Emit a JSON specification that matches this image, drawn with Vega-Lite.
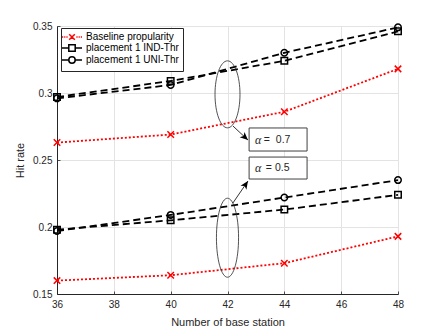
{
  "$schema": "https://vega.github.io/schema/vega-lite/v6.json",
  "width": 341,
  "height": 268,
  "autosize": {"type": "none"},
  "padding": {"left": 57, "top": 26, "right": 42, "bottom": 36},
  "background": "white",
  "config": {
    "font": "Liberation Sans",
    "view": {"stroke": "#262626", "strokeWidth": 1},
    "axis": {
      "grid": true,
      "gridColor": "#e3e3e3",
      "gridWidth": 1,
      "ticks": true,
      "tickSize": -3,
      "tickColor": "#262626",
      "tickWidth": 0.8,
      "labelFlush": false,
      "domainColor": "#262626",
      "labelColor": "#262626",
      "titleColor": "#262626",
      "labelFontSize": 10,
      "titleFontSize": 11,
      "titleFontWeight": "normal",
      "labelPadding": 8,
      "titlePadding": 7
    }
  },
  "resolve": {"scale": {"color": "independent", "shape": "independent"}},
  "datasets": {
    "main": [
      {"x": 36, "y": 0.263, "series": "Baseline propularity", "alpha": "0.7"},
      {"x": 40, "y": 0.269, "series": "Baseline propularity", "alpha": "0.7"},
      {"x": 44, "y": 0.286, "series": "Baseline propularity", "alpha": "0.7"},
      {"x": 48, "y": 0.318, "series": "Baseline propularity", "alpha": "0.7"},
      {"x": 36, "y": 0.297, "series": "placement 1 IND-Thr", "alpha": "0.7"},
      {"x": 40, "y": 0.309, "series": "placement 1 IND-Thr", "alpha": "0.7"},
      {"x": 44, "y": 0.324, "series": "placement 1 IND-Thr", "alpha": "0.7"},
      {"x": 48, "y": 0.346, "series": "placement 1 IND-Thr", "alpha": "0.7"},
      {"x": 36, "y": 0.296, "series": "placement 1 UNI-Thr", "alpha": "0.7"},
      {"x": 40, "y": 0.306, "series": "placement 1 UNI-Thr", "alpha": "0.7"},
      {"x": 44, "y": 0.330, "series": "placement 1 UNI-Thr", "alpha": "0.7"},
      {"x": 48, "y": 0.349, "series": "placement 1 UNI-Thr", "alpha": "0.7"},
      {"x": 36, "y": 0.160, "series": "Baseline propularity", "alpha": "0.5"},
      {"x": 40, "y": 0.164, "series": "Baseline propularity", "alpha": "0.5"},
      {"x": 44, "y": 0.173, "series": "Baseline propularity", "alpha": "0.5"},
      {"x": 48, "y": 0.193, "series": "Baseline propularity", "alpha": "0.5"},
      {"x": 36, "y": 0.198, "series": "placement 1 IND-Thr", "alpha": "0.5"},
      {"x": 40, "y": 0.205, "series": "placement 1 IND-Thr", "alpha": "0.5"},
      {"x": 44, "y": 0.213, "series": "placement 1 IND-Thr", "alpha": "0.5"},
      {"x": 48, "y": 0.224, "series": "placement 1 IND-Thr", "alpha": "0.5"},
      {"x": 36, "y": 0.197, "series": "placement 1 UNI-Thr", "alpha": "0.5"},
      {"x": 40, "y": 0.209, "series": "placement 1 UNI-Thr", "alpha": "0.5"},
      {"x": 44, "y": 0.222, "series": "placement 1 UNI-Thr", "alpha": "0.5"},
      {"x": 48, "y": 0.235, "series": "placement 1 UNI-Thr", "alpha": "0.5"}
    ]
  },
  "encoding": {
    "x": {
      "field": "x", "type": "quantitative",
      "scale": {"domain": [36, 48], "nice": false, "zero": false},
      "axis": {"values": [36, 38, 40, 42, 44, 46, 48], "title": "Number of base station"}
    },
    "y": {
      "field": "y", "type": "quantitative",
      "scale": {"domain": [0.15, 0.35], "nice": false, "zero": false},
      "axis": {"values": [0.15, 0.2, 0.25, 0.3, 0.35], "format": ".2~f", "title": "Hit rate"}
    }
  },
  "layer": [
    {
      "data": {"name": "main"},
      "mark": {"type": "line", "strokeWidth": 1.8},
      "encoding": {
        "stroke": {
          "field": "series", "type": "nominal",
          "scale": {"domain": ["Baseline propularity", "placement 1 IND-Thr", "placement 1 UNI-Thr"], "range": ["#ff0000", "#000000", "#000000"]},
          "legend": null
        },
        "strokeDash": {
          "field": "series", "type": "nominal",
          "scale": {"domain": ["Baseline propularity", "placement 1 IND-Thr", "placement 1 UNI-Thr"], "range": [[2, 2], [7, 4], [7, 4]]},
          "legend": null
        },
        "detail": {"field": "alpha", "type": "nominal"},
        "order": {"field": "x", "type": "quantitative"}
      }
    },
    {
      "data": {"name": "main"},
      "mark": {"type": "point", "filled": false, "strokeWidth": 1.5, "size": 42, "opacity": 1},
      "encoding": {
        "color": {
          "field": "series", "type": "nominal",
          "scale": {"domain": ["Baseline propularity", "placement 1 IND-Thr", "placement 1 UNI-Thr"], "range": ["#ff0000", "#000000", "#000000"]},
          "legend": null
        },
        "shape": {
          "field": "series", "type": "nominal",
          "scale": {"domain": ["Baseline propularity", "placement 1 IND-Thr", "placement 1 UNI-Thr"], "range": ["M-1,-1L1,1M-1,1L1,-1", "square", "circle"]},
          "legend": null
        }
      }
    },
    {
      "data": {"values": []},
      "mark": {"type": "point", "filled": false, "strokeWidth": 1.5, "opacity": 1},
      "encoding": {
        "color": {
          "field": "series", "type": "nominal",
          "scale": {"domain": ["Baseline propularity", "placement 1 IND-Thr", "placement 1 UNI-Thr"], "range": ["#ff0000", "#000000", "#000000"]},
          "legend": {"orient": "none", "legendX": 4, "legendY": 2, "title": null, "symbolSize": 64, "symbolStrokeWidth": 1.5, "labelFontSize": 10, "labelColor": "#000000", "padding": 4, "rowPadding": -2, "symbolOffset": 2, "labelOffset": 9, "fillColor": "#ffffff", "strokeColor": "#262626", "cornerRadius": 0}
        },
        "shape": {
          "field": "series", "type": "nominal",
          "scale": {"domain": ["Baseline propularity", "placement 1 IND-Thr", "placement 1 UNI-Thr"], "range": [
            "M-2.5,0L-2.2,0M-1.95,0L-1.65,0M-1.4,0L-1.1,0M1.1,0L1.4,0M1.65,0L1.95,0M2.2,0L2.5,0M-0.7,-0.7L0.7,0.7M-0.7,0.7L0.7,-0.7",
            "M-2.5,0L-0.8,0M0.8,0L2.5,0M-0.8,-0.8L0.8,-0.8L0.8,0.8L-0.8,0.8Z",
            "M-2.5,0L-0.8,0M0.8,0L2.5,0M0.8,0A0.8,0.8,0,1,1,-0.8,0A0.8,0.8,0,1,1,0.8,0Z"
          ]},
          "legend": {"orient": "none", "legendX": 4, "legendY": 2, "title": null, "symbolSize": 64, "symbolStrokeWidth": 1.5, "labelFontSize": 10, "labelColor": "#000000", "padding": 4, "rowPadding": -2, "symbolOffset": 2, "labelOffset": 9, "fillColor": "#ffffff", "strokeColor": "#262626", "cornerRadius": 0}
        }
      }
    },
    {
      "data": {"values": [{"x": 42, "y": 0.299}]},
      "mark": {"type": "point", "shape": "M0,-1A0.373,1,0,1,1,0,1A0.373,1,0,1,1,0,-1Z", "size": 4489, "filled": false, "stroke": "#262626", "strokeWidth": 0.8, "opacity": 1}
    },
    {
      "data": {"values": [{"x": 42, "y": 0.192}]},
      "mark": {"type": "point", "shape": "M0,-1A0.28,1,0,1,1,0,1A0.28,1,0,1,1,0,-1Z", "size": 6241, "filled": false, "stroke": "#262626", "strokeWidth": 0.8, "opacity": 1}
    },
    {
      "data": {"values": [
        {"x": 42.19, "y": 0.2754, "x2": 42.72, "y2": 0.2649},
        {"x": 42.19, "y": 0.2179, "x2": 42.72, "y2": 0.2343}
      ]},
      "mark": {"type": "rule", "color": "#000000", "strokeWidth": 0.8},
      "encoding": {
        "x2": {"field": "x2"},
        "y2": {"field": "y2"}
      }
    },
    {
      "data": {"values": [{"x": 42.72, "y": 0.2649}]},
      "mark": {"type": "point", "shape": "M0,0L-0.75,1.7L0,1.25L0.75,1.7Z", "size": 90, "filled": true, "color": "#000000", "angle": 133, "opacity": 1}
    },
    {
      "data": {"values": [{"x": 42.72, "y": 0.2343}]},
      "mark": {"type": "point", "shape": "M0,0L-0.75,1.7L0,1.25L0.75,1.7Z", "size": 90, "filled": true, "color": "#000000", "angle": 34, "opacity": 1}
    },
    {
      "data": {"values": [
        {"x": 42.76, "y": 0.2739, "x2": 44.80, "y2": 0.2567},
        {"x": 42.76, "y": 0.2522, "x2": 44.80, "y2": 0.2358}
      ]},
      "mark": {"type": "rect", "fill": "#ffffff", "stroke": "#404040", "strokeWidth": 1},
      "encoding": {
        "x2": {"field": "x2"},
        "y2": {"field": "y2"}
      }
    },
    {
      "data": {"values": [
        {"x": 42.97, "y": 0.2649, "t": "α"},
        {"x": 42.97, "y": 0.2440, "t": "α"}
      ]},
      "mark": {"type": "text", "font": "Liberation Serif", "fontStyle": "italic", "fontSize": 12, "align": "left", "baseline": "middle", "color": "#262626"},
      "encoding": {"text": {"field": "t"}}
    },
    {
      "data": {"values": [
        {"x": 43.28, "y": 0.2649, "t": "= \u00a00.7"},
        {"x": 43.35, "y": 0.2440, "t": "= 0.5"}
      ]},
      "mark": {"type": "text", "font": "Liberation Sans", "fontSize": 10.5, "align": "left", "baseline": "middle", "color": "#262626"},
      "encoding": {"text": {"field": "t"}}
    }
  ]
}
